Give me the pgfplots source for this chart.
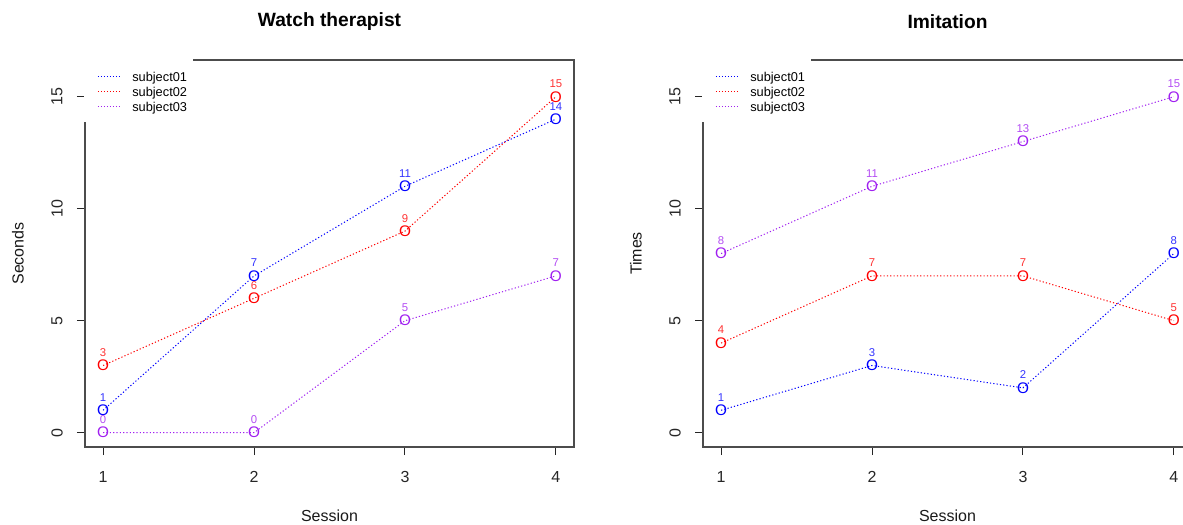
\documentclass[border=0pt]{standalone}
\usepackage{fontspec}
\setmainfont{Liberation Sans}
\usepackage{pgfplots}
\pgfplotsset{compat=1.18}
\definecolor{rblue}{HTML}{0000FF}
\definecolor{rred}{HTML}{FF0000}
\definecolor{rpurple}{HTML}{A020F0}

\pgfplotsset{
  rpanel/.style={
    scale only axis, width=366.75pt, height=290.25pt,
    xmin=0.88, xmax=4.12, ymin=-0.64, ymax=16.64,
    xtick={1,2,3,4}, ytick={0,5,10,15},
    axis line style={black!70, line width=0.9pt},
    tick style={black!85, line width=0.75pt},
    tick align=outside, major tick length=6pt,
    xtick pos=bottom, ytick pos=left,
    /pgf/number format/assume math mode=true,
    ticklabel style={font=\fontsize{12}{14}\selectfont, text=black!85},
    xticklabel style={anchor=center, yshift=-16.5pt},
    yticklabel style={anchor=center, xshift=-15pt, rotate=90},
    label style={font=\fontsize{12}{14}\selectfont, text=black!90},
    xlabel style={at={(axis description cs:0.5,-0.178)}, anchor=center},
    ylabel style={at={(axis description cs:-0.137,0.5)}, anchor=center},
    title style={at={(axis description cs:0.5,1.078)}, anchor=center, font=\fontsize{14.4}{16}\selectfont\bfseries},
    clip=false,
    nodes near coords style={font=\fontsize{8.5}{9}\selectfont, anchor=center, yshift=9.75pt, inner sep=0pt},
    legend style={at={(rel axis cs:0,1)}, anchor=north west, xshift=9pt, yshift=-7.1pt,
      draw=none, fill=none, inner sep=0pt, row sep=0pt, column sep=9pt,
      font=\fontsize{9.6}{11.6}\selectfont,
      nodes={inner sep=0pt, text height=9.05pt, text depth=2.2pt}},
    legend cell align=left,
  },
  sty/.style={color=#1, draw=#1, line width=0.75pt, dash pattern=on 0.9pt off 1.6pt,
    mark=text, text mark={O}, mark options={solid},
    text mark as node=true,
    text mark style={font=\fontsize{11.5}{12}\selectfont, text=#1, inner sep=0pt, anchor=center},
    nodes near coords, every node near coord/.append style={text=#1!80},
    legend image code/.code={\draw[color=#1, line width=0.75pt, dash pattern=on 1.125pt off 1.125pt] (0pt,0.375pt) -- (16.5pt,0.375pt);}},
}

\begin{document}
\begin{tikzpicture}
\useasboundingbox (0,0) rectangle (887.25pt,-393.75pt);
\clip (0,0) rectangle (887.25pt,-393.75pt);
\begin{axis}[rpanel, at={(63.75pt,-45pt)}, anchor=north west,
  title={Watch therapist}, xlabel={Session}, ylabel={Seconds}]
\fill[white] ([xshift=-0.75pt,yshift=10pt]rel axis cs:0,1) rectangle ([xshift=81pt,yshift=-46.5pt]rel axis cs:0,1);
\addplot[sty=rblue] coordinates {(1,1) (2,7) (3,11) (4,14)};
\addlegendentry{subject01}
\addplot[sty=rred] coordinates {(1,3) (2,6) (3,9) (4,15)};
\addlegendentry{subject02}
\addplot[sty=rpurple] coordinates {(1,0) (2,0) (3,5) (4,7)};
\addlegendentry{subject03}
\end{axis}
\begin{axis}[rpanel, at={(527.25pt,-45pt)}, anchor=north west,
  title={Imitation}, xlabel={Session}, ylabel={Times}]
\fill[white] ([xshift=-0.75pt,yshift=10pt]rel axis cs:0,1) rectangle ([xshift=81pt,yshift=-46.5pt]rel axis cs:0,1);
\addplot[sty=rblue] coordinates {(1,1) (2,3) (3,2) (4,8)};
\addlegendentry{subject01}
\addplot[sty=rred] coordinates {(1,4) (2,7) (3,7) (4,5)};
\addlegendentry{subject02}
\addplot[sty=rpurple] coordinates {(1,8) (2,11) (3,13) (4,15)};
\addlegendentry{subject03}
\end{axis}
\end{tikzpicture}
\end{document}
